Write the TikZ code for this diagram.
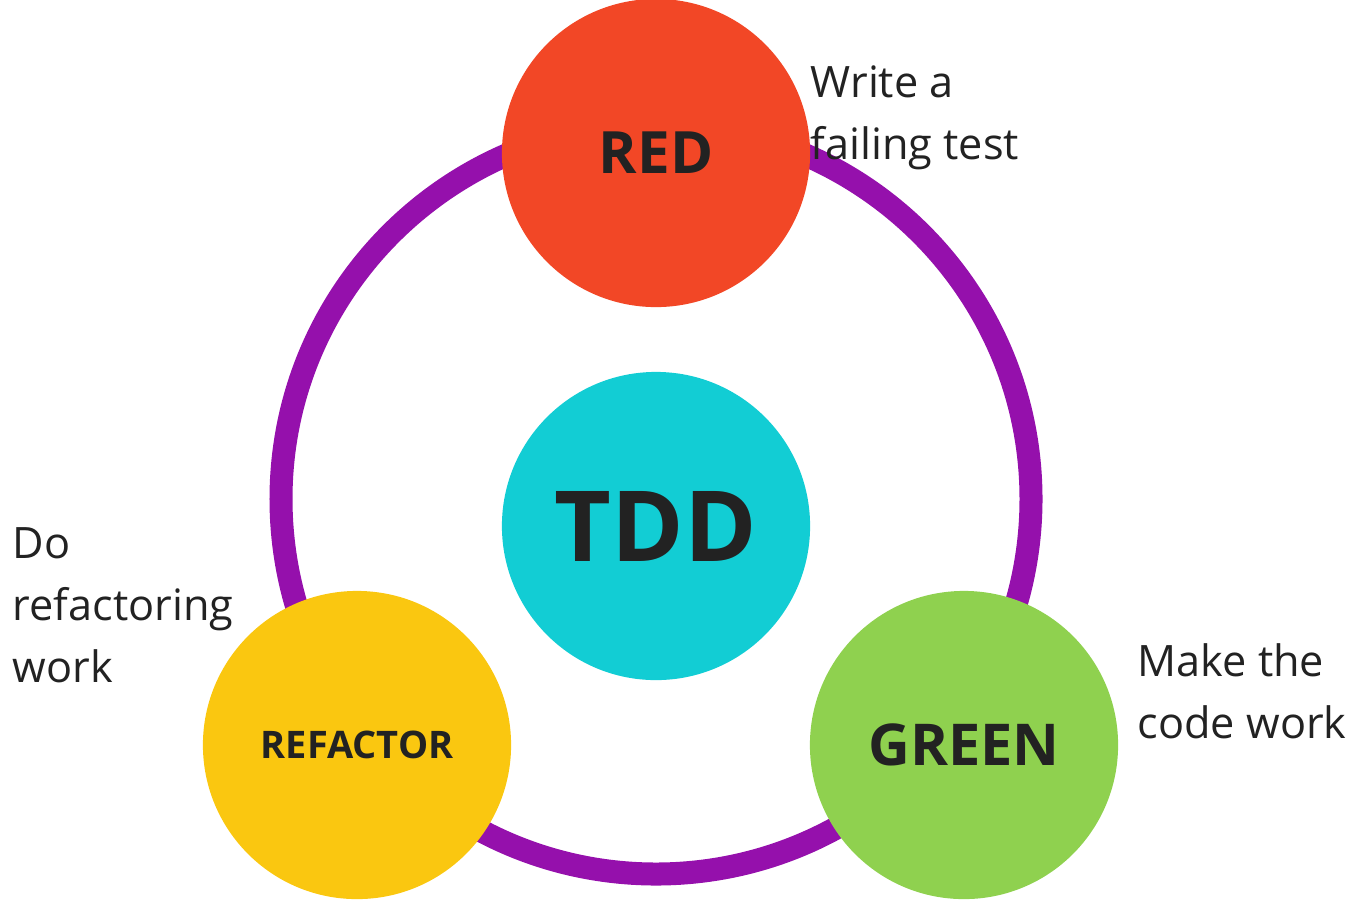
\documentclass[tikz,border=0pt]{standalone}
\usepackage{fontspec}
\setmainfont{Open Sans}

\definecolor{phasered}{HTML}{F24726}
\definecolor{phasegreen}{HTML}{8FD14F}
\definecolor{phaseyellow}{HTML}{FAC710}
\definecolor{tddcyan}{HTML}{12CDD4}
\definecolor{ringpurple}{HTML}{9510AC}
\definecolor{inkdark}{HTML}{222222}

\tikzset{
    phase/.style={circle, minimum size=3.08cm, inner sep=0pt, text=inkdark, font=\bfseries},
    note/.style={inner sep=0pt, align=left, anchor=base west, text=inkdark,
        font=\fontsize{12.3}{17.6}\selectfont},
}

\begin{document}
\begin{tikzpicture}[x=0.01cm, y=-0.01cm]

    \useasboundingbox (0,0) rectangle (1355,899);

    % Points
    \coordinate (C)  at (656,499);
    \coordinate (PR) at (656,153);
    \coordinate (PT) at (656,526);
    \coordinate (PF) at (357,745);
    \coordinate (PG) at (964,745);

    % Cycle ring
    \draw[ringpurple, line width=0.23cm] (C) circle (375);

    % Phases
    \node[phase, fill=phasered] (red) at (PR)
        {\fontsize{16.6}{20}\selectfont RED};
    \node[phase, fill=tddcyan] (tdd) at (PT)
        {\fontsize{27.9}{32}\selectfont TDD};
    \node[phase, fill=phaseyellow] (refactor) at (PF)
        {\fontsize{10.8}{13}\selectfont REFACTOR};
    \node[phase, fill=phasegreen] (green) at (PG)
        {\fontsize{16.4}{20}\selectfont GREEN};

    % Notes (anchored at the baseline of the last line)
    \node[note] (rednote) at (810,159) {Write a\\failing test};
    \node[note] (refactornote) at (12,682) {Do\\refactoring\\work};
    \node[note] (greennote) at (1137,738) {Make the\\code work};

\end{tikzpicture}
\end{document}
